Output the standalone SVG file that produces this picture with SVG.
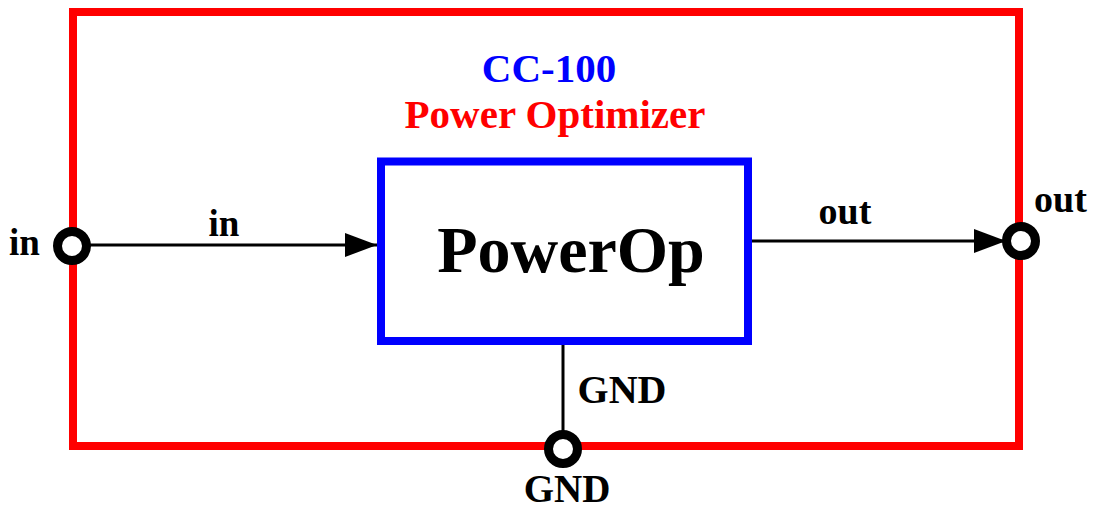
<svg xmlns="http://www.w3.org/2000/svg" width="1094" height="512" viewBox="0 0 1094 512">
<defs>
<style>
text{font-family:"Liberation Serif","Times New Roman",serif;font-weight:bold;fill:#000}
.wire{stroke:#000;stroke-width:3;fill:none}
.port{fill:#fff;stroke:#000;stroke-width:9}
</style>
<marker id="arrBig" viewBox="0 0 32 24" refX="32" refY="12" markerWidth="32" markerHeight="24" markerUnits="userSpaceOnUse" orient="auto">
<path d="M0,0 L32,12 L0,24 z" fill="#000"/>
</marker>
</defs>
<rect width="1094" height="512" fill="#fff"/>
<g id="container">
<rect x="73" y="12" width="946" height="434" fill="none" stroke="#ff0000" stroke-width="8"/>
<text x="549" y="82" text-anchor="middle" font-size="41" style="fill:#0000ff">CC-100</text>
<text x="555" y="128" text-anchor="middle" font-size="41" style="fill:#ff0000">Power Optimizer</text>
</g>
<g id="connectors">
<line class="wire" x1="84" y1="245" x2="377" y2="245" marker-end="url(#arrBig)"/>
<line class="wire" x1="742" y1="241" x2="1006" y2="241" marker-end="url(#arrBig)"/>
<line class="wire" x1="563" y1="345" x2="563" y2="437"/>
<text x="224" y="236" text-anchor="middle" font-size="37">in</text>
<text x="845" y="224" text-anchor="middle" font-size="38">out</text>
<text x="622" y="403" text-anchor="middle" font-size="40">GND</text>
</g>
<g id="powerop">
<rect x="381" y="161.5" width="367" height="179.5" fill="#fff" stroke="#0000ff" stroke-width="8"/>
<text x="571" y="272" text-anchor="middle" font-size="66">PowerOp</text>
</g>
<g id="port-in">
<circle class="port" cx="72" cy="246" r="14.5"/>
<text x="9" y="255" font-size="37">in</text>
</g>
<g id="port-out">
<circle class="port" cx="1021" cy="241" r="14.5"/>
<text x="1034" y="212" font-size="38">out</text>
</g>
<g id="port-gnd">
<circle class="port" cx="563" cy="449" r="14.5"/>
<text x="567" y="502" text-anchor="middle" font-size="39">GND</text>
</g>
</svg>
